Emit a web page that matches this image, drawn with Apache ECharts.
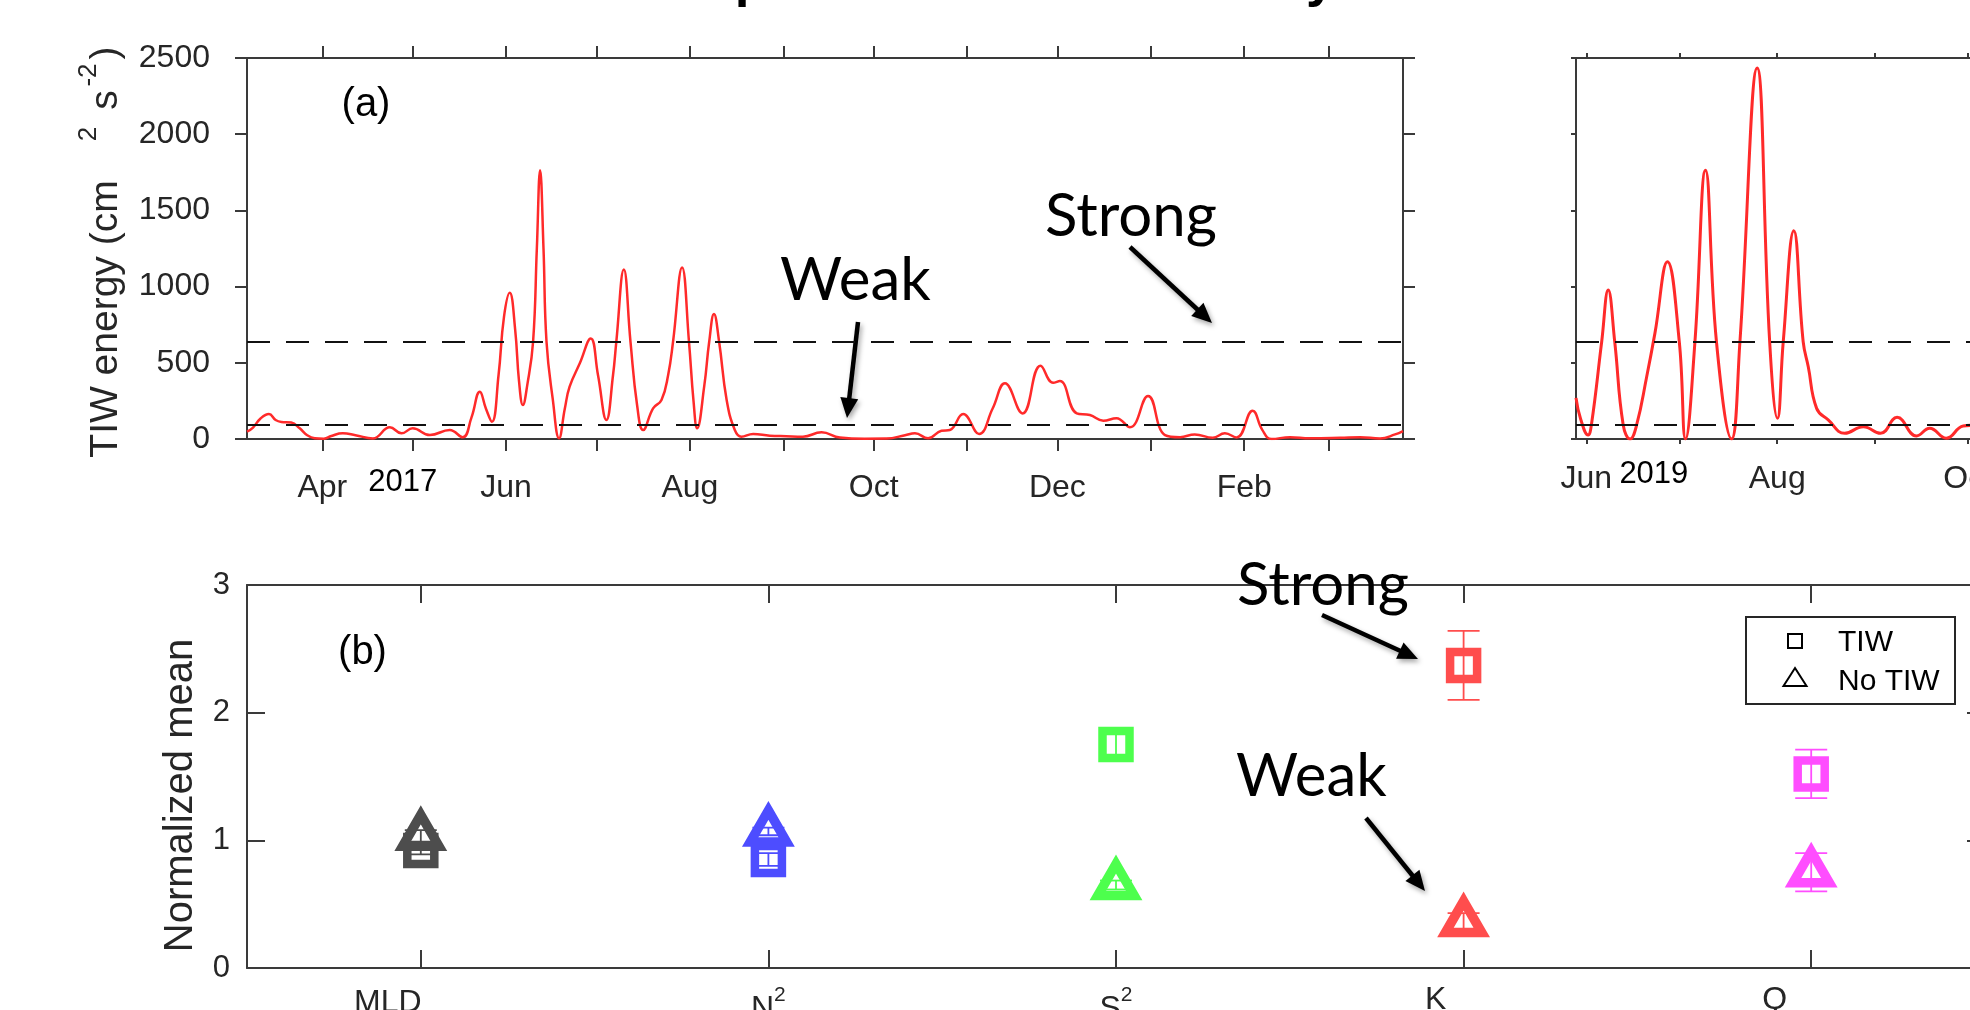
<!DOCTYPE html>
<html lang="en">
<head>
<meta charset="utf-8">
<title>TIW energy and normalized means</title>
<script src="https://cdn.jsdelivr.net/npm/echarts@6/dist/echarts.min.js"></script>
<style>
  html, body { margin: 0; padding: 0; background: #ffffff; }
  #chart { width: 1970px; height: 1010px; }
</style>
</head>
<body>
<div id="chart"></div>
<script>
// ---------------- data ----------------
// time windows of the two energy panels
const range2017 = ['2017-03-07 00:00', '2018-03-25 17:00'];
const range2019 = ['2019-05-28 17:00', '2019-11-12 03:00'];

// strong / weak TIW energy levels (cm^2 s^-2)
const thresholds = [638, 92];

// TIW energy, 2017-2018 record
const energy2017 = [
  ['2017-03-07 00:00', 48], ['2017-03-09 00:00', 75], ['2017-03-11 12:00', 135], ['2017-03-14 07:00', 164],
  ['2017-03-16 12:00', 125], ['2017-03-18 10:00', 112], ['2017-03-21 17:00', 108], ['2017-03-24 12:00', 70],
  ['2017-03-27 00:00', 25], ['2017-03-29 12:00', 5], ['2017-04-01 12:00', 2], ['2017-04-04 00:00', 20],
  ['2017-04-07 19:00', 37], ['2017-04-12 00:00', 25], ['2017-04-17 19:00', 4], ['2017-04-23 10:00', 77],
  ['2017-04-27 07:00', 37], ['2017-05-01 00:00', 70], ['2017-05-06 17:00', 26], ['2017-05-13 07:00', 59],
  ['2017-05-17 14:00', 11], ['2017-05-20 12:00', 140], ['2017-05-23 07:00', 310], ['2017-05-25 07:00', 200],
  ['2017-05-27 07:00', 113], ['2017-05-29 12:00', 420], ['2017-05-31 07:00', 800], ['2017-06-02 05:00', 959],
  ['2017-06-04 00:00', 720], ['2017-06-05 07:00', 380], ['2017-06-06 14:00', 223], ['2017-06-08 00:00', 350],
  ['2017-06-09 23:00', 638], ['2017-06-11 05:00', 1250], ['2017-06-12 07:00', 1764], ['2017-06-13 10:00', 1250],
  ['2017-06-14 10:00', 638], ['2017-06-16 12:00', 260], ['2017-06-18 14:00', 5], ['2017-06-20 12:00', 200],
  ['2017-06-22 02:00', 343], ['2017-06-25 12:00', 498], ['2017-06-29 02:00', 660], ['2017-07-01 12:00', 420],
  ['2017-07-04 07:00', 125], ['2017-07-06 12:00', 420], ['2017-07-07 14:00', 638], ['2017-07-10 02:00', 1112],
  ['2017-07-12 07:00', 638], ['2017-07-14 12:00', 220], ['2017-07-16 12:00', 59], ['2017-07-19 19:00', 201],
  ['2017-07-22 14:00', 256], ['2017-07-24 19:00', 420], ['2017-07-26 10:00', 638], ['2017-07-29 10:00', 1126],
  ['2017-07-31 17:00', 638], ['2017-08-02 05:00', 250], ['2017-08-03 10:00', 70], ['2017-08-05 19:00', 350],
  ['2017-08-07 10:00', 638], ['2017-08-09 00:00', 820], ['2017-08-10 17:00', 638], ['2017-08-13 05:00', 256],
  ['2017-08-15 22:00', 59], ['2017-08-18 02:00', 15], ['2017-08-22 00:00', 33], ['2017-08-27 12:00', 22],
  ['2017-09-02 00:00', 18], ['2017-09-07 12:00', 15], ['2017-09-13 17:00', 44], ['2017-09-19 19:00', 10],
  ['2017-09-28 00:00', 2], ['2017-10-05 07:00', 3], ['2017-10-11 10:00', 25], ['2017-10-14 17:00', 37],
  ['2017-10-19 02:00', 5], ['2017-10-23 12:00', 54], ['2017-10-26 07:00', 59], ['2017-10-30 17:00', 164],
  ['2017-11-05 00:00', 33], ['2017-11-09 12:00', 200], ['2017-11-13 14:00', 365], ['2017-11-19 10:00', 168],
  ['2017-11-25 10:00', 481], ['2017-11-29 14:00', 369], ['2017-12-01 19:00', 380], ['2017-12-07 10:00', 168],
  ['2017-12-11 19:00', 157], ['2017-12-16 05:00', 120], ['2017-12-20 14:00', 136], ['2017-12-25 02:00', 77],
  ['2017-12-31 02:00', 282], ['2018-01-05 17:00', 26], ['2018-01-10 17:00', 12], ['2018-01-15 14:00', 30],
  ['2018-01-21 14:00', 8], ['2018-01-25 14:00', 37], ['2018-01-29 12:00', 10], ['2018-02-03 19:00', 186],
  ['2018-02-07 00:00', 60], ['2018-02-10 02:00', 0], ['2018-02-16 05:00', 12], ['2018-02-22 19:00', 5],
  ['2018-03-04 19:00', 8], ['2018-03-11 12:00', 12], ['2018-03-18 02:00', 3], ['2018-03-23 02:00', 30],
  ['2018-03-25 17:00', 52]
];

// TIW energy, 2019 record
const energy2019 = [
  ['2019-05-28 17:00', 270], ['2019-05-30 05:00', 130], ['2019-06-01 14:00', 26], ['2019-06-02 15:00', 92],
  ['2019-06-05 22:00', 638], ['2019-06-08 00:00', 977], ['2019-06-10 02:00', 638], ['2019-06-12 19:00', 92],
  ['2019-06-15 00:00', 0], ['2019-06-17 02:00', 92], ['2019-06-20 07:00', 408], ['2019-06-22 22:00', 693],
  ['2019-06-26 22:00', 1163], ['2019-06-30 17:00', 638], ['2019-07-02 17:00', 0], ['2019-07-05 17:00', 638],
  ['2019-07-09 02:00', 1764], ['2019-07-12 14:00', 638], ['2019-07-17 10:00', 0], ['2019-07-20 02:00', 638],
  ['2019-07-25 14:00', 2435], ['2019-07-29 14:00', 638], ['2019-08-01 02:00', 136], ['2019-08-02 22:00', 638],
  ['2019-08-06 07:00', 1366], ['2019-08-09 07:00', 638], ['2019-08-10 22:00', 474], ['2019-08-13 14:00', 201],
  ['2019-08-17 07:00', 125], ['2019-08-22 14:00', 37], ['2019-08-28 12:00', 81], ['2019-09-03 00:00', 37],
  ['2019-09-08 07:00', 142], ['2019-09-14 12:00', 20], ['2019-09-18 17:00', 70], ['2019-09-24 00:00', 5],
  ['2019-09-29 10:00', 85], ['2019-10-03 00:00', 90]
];

// month ticks and labelled months
const monthTicks2017 = ['2017-04-01', '2017-05-01', '2017-06-01', '2017-07-01', '2017-08-01', '2017-09-01',
  '2017-10-01', '2017-11-01', '2017-12-01', '2018-01-01', '2018-02-01', '2018-03-01'];
const monthLabels2017 = ['2017-04-01', '2017-06-01', '2017-08-01', '2017-10-01', '2017-12-01', '2018-02-01'];
const monthTicks2019 = ['2019-06-01', '2019-07-01', '2019-08-01', '2019-09-01', '2019-10-01', '2019-11-01'];
const monthLabels2019 = ['2019-06-01', '2019-08-01', '2019-10-01'];
const monthNames = ['Jan', 'Feb', 'Mar', 'Apr', 'May', 'Jun', 'Jul', 'Aug', 'Sep', 'Oct', 'Nov', 'Dec'];
const yearLabels = [['2017', '2017-04-27 16:00'], ['2019', '2019-06-22 14:00']];

// normalized means of the mixed-layer quantities
const categories = ['MLD', 'N^2', 'S^2', 'K_ρ', 'Q_net'];
const seriesNames = ['TIW', 'No TIW'];
const tiwMean = [0.92, 0.85, 1.75, 2.37, 1.52];
const tiwErr = [0.03, 0.05, 0.10, 0.27, 0.19];
const noTiwMean = [1.035, 1.07, 0.65, 0.36, 0.75];
const noTiwErr = [0.045, 0.03, 0.035, 0.07, 0.15];

// ---------------- styling ----------------
const FONT = "'Liberation Sans', Arial, Helvetica, sans-serif";
const NOTE_FONT = "Lato, 'Open Sans', sans-serif";
const AXIS_COLOR = '#3a3a3a';
const TEXT_COLOR = '#262626';
const LINE_RED = '#ff2a2a';
const markerColors = ['#4d4d4d', '#4d4dff', '#4dff4d', '#ff4d4d', '#ff4dff'];

// dates are handled as millisecond timestamps on plain value axes
const ts = s => +echarts.time.parse(s);

const chart = echarts.init(document.getElementById('chart'), null, { renderer: 'canvas', width: 1970, height: 1010 });

function axisLine() {
  return { show: true, onZero: false, lineStyle: { color: AXIS_COLOR, width: 2 } };
}

function timeAxis(grid, range, ticks, labels, position, tickLen, margin) {
  return {
    type: 'value', gridIndex: grid, position: position, scale: true,
    min: ts(range[0]), max: ts(range[1]),
    axisLine: axisLine(),
    axisTick: { show: true, inside: false, length: tickLen, customValues: ticks.map(ts),
      lineStyle: { color: AXIS_COLOR, width: 2 } },
    axisLabel: position === 'bottom' ? {
      show: true, customValues: labels.map(ts), margin: margin,
      formatter: v => monthNames[new Date(v).getMonth()],
      fontSize: 32, fontFamily: FONT, color: TEXT_COLOR
    } : { show: false },
    splitLine: { show: false }, minorTick: { show: false }
  };
}

function energyAxis(grid, position, tickLen, showLabel) {
  return {
    type: 'value', gridIndex: grid, position: position, min: 0, max: 2500, interval: 500,
    axisLine: axisLine(),
    axisTick: { show: true, inside: false, length: tickLen, lineStyle: { color: AXIS_COLOR, width: 2 } },
    axisLabel: { show: showLabel, margin: 37, fontSize: 32, fontFamily: FONT, color: TEXT_COLOR,
      formatter: v => String(v) },
    splitLine: { show: false }
  };
}

// TeX-like names -> rich text for the category labels
function categoryLabel(name) {
  if (name.indexOf('^') > 0) {
    const p = name.split('^');
    return '{m|' + p[0] + '}{sup|' + p[1] + '}';
  }
  if (name.indexOf('_') > 0) {
    const p = name.split('_');
    return '{hi|' + p[0] + '}{sub|' + p[1] + '}';
  }
  return '{mw|' + name + '}';
}

const categoryRich = {
  m: { fontSize: 32, lineHeight: 48, verticalAlign: 'bottom', fontFamily: FONT, color: TEXT_COLOR },
  mw: { fontSize: 32, lineHeight: 48, verticalAlign: 'bottom', fontFamily: FONT, color: TEXT_COLOR, padding: [0, 66, 0, 0] },
  sup: { fontSize: 21, lineHeight: 54, verticalAlign: 'top', fontFamily: FONT, color: TEXT_COLOR, padding: [14, 0, 0, 0] },
  hi: { fontSize: 32, lineHeight: 48, verticalAlign: 'top', fontFamily: FONT, color: TEXT_COLOR, padding: [13, 0, 0, 0] },
  sub: { fontSize: 21, lineHeight: 48, verticalAlign: 'top', fontFamily: FONT, color: TEXT_COLOR, padding: [38, 36, 0, 8] }
};

function categoryAxis(position, showLabel) {
  return {
    type: 'category', gridIndex: 2, position: position, data: categories, boundaryGap: true,
    axisLine: axisLine(),
    axisTick: { show: true, inside: true, length: 18, alignWithLabel: true, interval: 0,
      lineStyle: { color: AXIS_COLOR, width: 2 } },
    axisLabel: showLabel ? { show: true, interval: 0, margin: 3, formatter: categoryLabel, rich: categoryRich } : { show: false },
    splitLine: { show: false }
  };
}

function meanAxis(position, showLabel) {
  return {
    type: 'value', gridIndex: 2, position: position, min: 0, max: 3, interval: 1,
    axisLine: axisLine(),
    axisTick: { show: true, inside: true, length: 18, lineStyle: { color: AXIS_COLOR, width: 2 } },
    axisLabel: { show: showLabel, margin: 17, fontSize: 31, fontFamily: FONT, color: TEXT_COLOR },
    splitLine: { show: false }
  };
}

function thresholdLines() {
  return {
    silent: true, symbol: 'none', label: { show: false },
    lineStyle: { color: '#111', width: 2, type: [23, 16] },
    data: thresholds.map(v => ({ yAxis: v }))
  };
}

// marker with white face, error bar, then coloured edge
const SQUARE_SIZE = 27;
const TRI_INRADIUS = 10.5;
const CAP_HALF = 16;

function markerShape(kind, c) {
  if (kind === 'square') {
    const h = SQUARE_SIZE / 2;
    return { type: 'rect', shape: { x: c[0] - h, y: c[1] - h, width: SQUARE_SIZE, height: SQUARE_SIZE } };
  }
  const r = TRI_INRADIUS, s3 = Math.sqrt(3);
  return { type: 'polygon', shape: { points: [[c[0], c[1] - 2 * r], [c[0] + r * s3, c[1] + r], [c[0] - r * s3, c[1] + r]] } };
}

function errorMarker(kind, lineWidth) {
  return function (params, api) {
    const idx = api.value(0);
    const mean = api.value(1);
    const err = api.value(2);
    const c = api.coord([idx, mean]);
    const yHi = api.coord([idx, mean + err])[1];
    const yLo = api.coord([idx, mean - err])[1];
    const color = markerColors[idx];
    const face = markerShape(kind, c);
    face.style = { fill: '#ffffff', stroke: 'none' };
    const edge = markerShape(kind, c);
    edge.style = { fill: 'none', stroke: color, lineWidth: lineWidth, lineJoin: 'miter' };
    const bar = { stroke: color, lineWidth: 1.8 };
    return {
      type: 'group',
      children: [
        face,
        { type: 'line', shape: { x1: c[0], y1: yHi, x2: c[0], y2: yLo }, style: bar },
        { type: 'line', shape: { x1: c[0] - CAP_HALF, y1: yHi, x2: c[0] + CAP_HALF, y2: yHi }, style: bar },
        { type: 'line', shape: { x1: c[0] - CAP_HALF, y1: yLo, x2: c[0] + CAP_HALF, y2: yLo }, style: bar },
        edge
      ]
    };
  };
}

const option = {
  animation: false,
  backgroundColor: '#ffffff',
  textStyle: { fontFamily: FONT },
  grid: [
    { left: 247, top: 58, width: 1156, height: 381, outerBoundsMode: 'none', containLabel: false },
    { left: 1576, top: 58, width: 524, height: 381, outerBoundsMode: 'none', containLabel: false },
    { left: 247, top: 585, width: 1738, height: 383, outerBoundsMode: 'none', containLabel: false }
  ],
  xAxis: [
    timeAxis(0, range2017, monthTicks2017, monthLabels2017, 'bottom', 12, 33),
    timeAxis(0, range2017, monthTicks2017, monthLabels2017, 'top', 12, 33),
    timeAxis(1, range2019, monthTicks2019, monthLabels2019, 'bottom', 5, 24),
    timeAxis(1, range2019, monthTicks2019, monthLabels2019, 'top', 5, 24),
    categoryAxis('bottom', true),
    categoryAxis('top', false)
  ],
  yAxis: [
    energyAxis(0, 'left', 12, true),
    energyAxis(0, 'right', 12, false),
    energyAxis(1, 'left', 5, false),
    energyAxis(1, 'right', 5, false),
    meanAxis('left', true),
    meanAxis('right', false)
  ],
  series: [
    {
      type: 'line', name: 'TIW energy 2017', xAxisIndex: 0, yAxisIndex: 0,
      data: energy2017.map(d => [ts(d[0]), d[1]]),
      smooth: 0.45, showSymbol: false, symbol: 'none',
      lineStyle: { color: LINE_RED, width: 2.5 }, markLine: thresholdLines(), z: 3
    },
    {
      type: 'line', name: 'TIW energy 2019', xAxisIndex: 2, yAxisIndex: 2,
      data: energy2019.map(d => [ts(d[0]), d[1]]),
      smooth: 0.45, showSymbol: false, symbol: 'none',
      lineStyle: { color: LINE_RED, width: 3 }, markLine: thresholdLines(), z: 3
    },
    {
      type: 'custom', name: seriesNames[0], xAxisIndex: 4, yAxisIndex: 4, clip: false,
      data: categories.map((c, i) => [i, tiwMean[i], tiwErr[i]]),
      encode: { x: 0, y: 1 },
      renderItem: errorMarker('square', 8.5), z: 4
    },
    {
      type: 'custom', name: seriesNames[1], xAxisIndex: 4, yAxisIndex: 4, clip: false,
      data: categories.map((c, i) => [i, noTiwMean[i], noTiwErr[i]]),
      encode: { x: 0, y: 1 },
      renderItem: errorMarker('triangle', 9.5), z: 5
    }
  ]
};

chart.setOption(option);

// ---------------- annotations ----------------
function text(x, y, str, size, extra) {
  const el = {
    type: 'text', x: x, y: y, silent: true, z: 100,
    style: Object.assign({
      text: str, fontSize: size, fontFamily: FONT, fill: '#000',
      align: 'left', verticalAlign: 'top', textAlign: 'left', textVerticalAlign: 'top'
    }, extra && extra.style)
  };
  if (extra && extra.rotation) el.rotation = extra.rotation;
  return el;
}

function centered(x, y, str, size, rotation, color) {
  return text(x, y, str, size, {
    rotation: rotation,
    style: { align: 'center', verticalAlign: 'middle', textAlign: 'center', textVerticalAlign: 'middle', fill: color || TEXT_COLOR }
  });
}

const shadow = { shadowBlur: 5, shadowColor: 'rgba(0,0,0,0.35)', shadowOffsetX: 2, shadowOffsetY: 3 };

function arrow(x1, y1, x2, y2) {
  const ang = Math.atan2(y2 - y1, x2 - x1);
  const L = 20, W = 9;
  const bx = x2 - L * Math.cos(ang), by = y2 - L * Math.sin(ang);
  const px = -Math.sin(ang) * W, py = Math.cos(ang) * W;
  return {
    type: 'group', silent: true, z: 100,
    children: [
      { type: 'line', shape: { x1: x1, y1: y1, x2: bx + 2 * Math.cos(ang), y2: by + 2 * Math.sin(ang) },
        style: Object.assign({ stroke: '#000', lineWidth: 4.5 }, shadow) },
      { type: 'polygon', shape: { points: [[x2, y2], [bx + px, by + py], [bx - px, by - py]] },
        style: Object.assign({ fill: '#000' }, shadow) }
    ]
  };
}

const R90 = Math.PI / 2;
const graphics = [
  // figure title above the panels
  text(617, 8, 'Comparison of TIW intensity', 53, { style: { fontWeight: 'bold', verticalAlign: 'bottom', textVerticalAlign: 'bottom' } }),

  // y-axis titles
  centered(106, 319, 'TIW energy (cm', 39, R90),
  centered(89, 134, '2', 26, R90),
  centered(106, 100, 's', 39, R90),
  centered(89, 75, '-2', 26, R90),
  centered(106, 53, ')', 39, R90),
  centered(180.6, 795.5, 'Normalized mean', 40, R90),

  // panel tags
  centered(366, 105, '(a)', 40, 0, '#000'),
  centered(362.5, 653, '(b)', 40, 0, '#000'),

  // strong / weak notes
  text(1045, 187, 'Strong', 60, { style: { fontFamily: NOTE_FONT } }),
  text(780, 251, 'Weak', 60, { style: { fontFamily: NOTE_FONT } }),
  text(1237, 556, 'Strong', 60, { style: { fontFamily: NOTE_FONT } }),
  text(1236, 747, 'Weak', 60, { style: { fontFamily: NOTE_FONT } }),
  arrow(1130, 247, 1212, 323),
  arrow(858, 322, 847, 418),
  arrow(1322, 615, 1418, 659),
  arrow(1366, 818, 1425, 891),

  // legend
  {
    type: 'group', silent: true, z: 100,
    children: [
      { type: 'rect', shape: { x: 1746, y: 617, width: 209, height: 87 }, style: { fill: '#fff', stroke: '#262626', lineWidth: 2 } },
      { type: 'rect', shape: { x: 1788, y: 634, width: 14, height: 14 }, style: { fill: 'none', stroke: '#000', lineWidth: 2 } },
      { type: 'polygon', shape: { points: [[1795, 668], [1806.5, 686], [1783.5, 686]] }, style: { fill: 'none', stroke: '#000', lineWidth: 2 } },
      text(1838, 642.4, seriesNames[0], 30, { style: { verticalAlign: 'middle', textVerticalAlign: 'middle' } }),
      text(1838, 681.4, seriesNames[1], 30, { style: { verticalAlign: 'middle', textVerticalAlign: 'middle' } })
    ]
  }
];

// year captions placed on the time axes
const yearTops = [467, 459];
const yearAxes = [0, 2];
yearLabels.forEach(function (y, i) {
  const px = chart.convertToPixel({ xAxisIndex: yearAxes[i] }, ts(y[1]));
  graphics.push(text(px, yearTops[i], y[0], 31, { style: { align: 'center', textAlign: 'center' } }));
});

chart.setOption({ graphic: graphics });
</script>
</body>
</html>
